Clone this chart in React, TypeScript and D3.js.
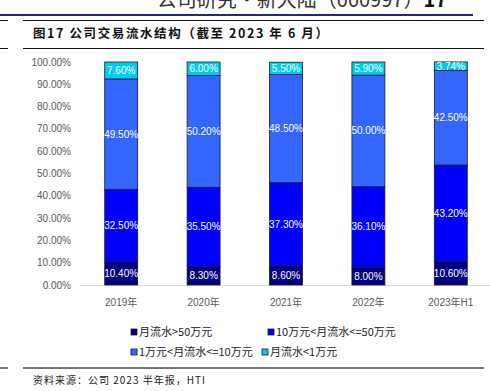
import React from "react";
import * as d3 from "d3";

const categories = ["2019年", "2020年", "2021年", "2022年", "2023年H1"];
const seriesNames = ["月流水>50万元", "10万元<月流水<=50万元", "1万元<月流水<=10万元", "月流水<1万元"];
const over50 = [10.4, 8.3, 8.6, 8.0, 10.6];
const from10to50 = [32.5, 35.5, 37.3, 36.1, 43.2];
const from1to10 = [49.5, 50.2, 48.5, 50.0, 42.5];
const under1 = [7.6, 6.0, 5.5, 5.9, 3.74];
const yTicks = [0, 10, 20, 30, 40, 50, 60, 70, 80, 90, 100];
const colors = ["#000080", "#0000ff", "#3366ff", "#00ccf0"];

const W = 490, H = 391;
const sans = "Arial, 'Liberation Sans', 'Noto Sans CJK SC', sans-serif";
const cjk = "'Noto Sans CJK SC', sans-serif";

export default function App() {
  const seriesData = [over50, from10to50, from1to10, under1];
  const rows = categories.map((c, i) => {
    const r: any = { cat: c };
    seriesNames.forEach((s, k) => (r[s] = seriesData[k][i]));
    return r;
  });
  const stacked = d3.stack().keys(seriesNames)(rows);
  const x = d3.scaleBand().domain(categories).range([80, 492]).paddingInner(0.6).paddingOuter(0.3);
  const y = d3.scaleLinear().domain([0, 100]).range([285, 62]);

  const legendItems = [
    { x: 131, y: 332 },
    { x: 268, y: 332 },
    { x: 131, y: 352 },
    { x: 262, y: 352 },
  ];

  return (
    <svg width={W} height={H} style={{ position: "absolute", left: 0, top: 0, background: "#fff" }}>
      <text x={447} y={7} textAnchor="end" fontFamily={cjk} fontSize={20} fill="#333">
        公司研究・新大陆（000997）<tspan fontWeight="bold" fill="#111">17</tspan>
      </text>
      <rect x={0} y={14} width={473} height={2} fill="#24248c" />
      <line x1={0} x2={8} y1={20.5} y2={20.5} stroke="#111" />
      <line x1={23} x2={484} y1={20.5} y2={20.5} stroke="#111" />
      <text x={33} y={38} fontFamily={cjk} fontSize={12.5} fontWeight={700} letterSpacing={1.6} fill="#111">
        图17 公司交易流水结构（截至 2023 年 6 月）
      </text>
      <line x1={0} x2={8} y1={48.5} y2={48.5} stroke="#111" />
      <line x1={23} x2={484} y1={48.5} y2={48.5} stroke="#111" />

      {yTicks.map((t) => (
        <text key={t} x={71} y={y(t) + 3.5} textAnchor="end" fontFamily={sans} fontSize={10} fill="#595959">
          {t.toFixed(2)}%
        </text>
      ))}
      <line x1={80} x2={490} y1={285.5} y2={285.5} stroke="#d9d9d9" />

      {stacked.map((s, k) => (
        <g key={k}>
          {s.map((d, i) => (
            <rect
              key={i}
              x={x(categories[i])!}
              y={y(d[1])}
              width={x.bandwidth()}
              height={y(d[0]) - y(d[1])}
              fill={colors[k]}
              stroke="#1a1a2e"
              strokeWidth={0.8}
            />
          ))}
          {s.map((d, i) => (
            <text
              key={"t" + i}
              x={x(categories[i])! + x.bandwidth() / 2}
              y={(y(d[0]) + y(d[1])) / 2 + 3.5}
              textAnchor="middle"
              fontFamily={sans}
              fontSize={10}
              fill="#fff"
            >
              {seriesData[k][i].toFixed(2)}%
            </text>
          ))}
        </g>
      ))}

      {categories.map((c) => (
        <text key={c} x={x(c)! + x.bandwidth() / 2} y={306} textAnchor="middle" fontFamily={sans} fontSize={10} fill="#595959">
          {c}
        </text>
      ))}

      {seriesNames.map((s, k) => (
        <g key={s}>
          <rect x={legendItems[k].x} y={legendItems[k].y - 3} width={6} height={6} fill={colors[k]} stroke="#1a1a2e" strokeWidth={0.8} />
          <text x={legendItems[k].x + 8} y={legendItems[k].y + 4} fontFamily={cjk} fontSize={11} fill="#222">
            {s}
          </text>
        </g>
      ))}

      <line x1={0} x2={8} y1={368} y2={368} stroke="#444" strokeWidth={1.5} />
      <line x1={23} x2={484} y1={368} y2={368} stroke="#444" strokeWidth={1.5} />
      <text x={33} y={384} fontFamily={cjk} fontSize={10} letterSpacing={1} fill="#222">
        资料来源：公司 2023 半年报，HTI
      </text>
    </svg>
  );
}
